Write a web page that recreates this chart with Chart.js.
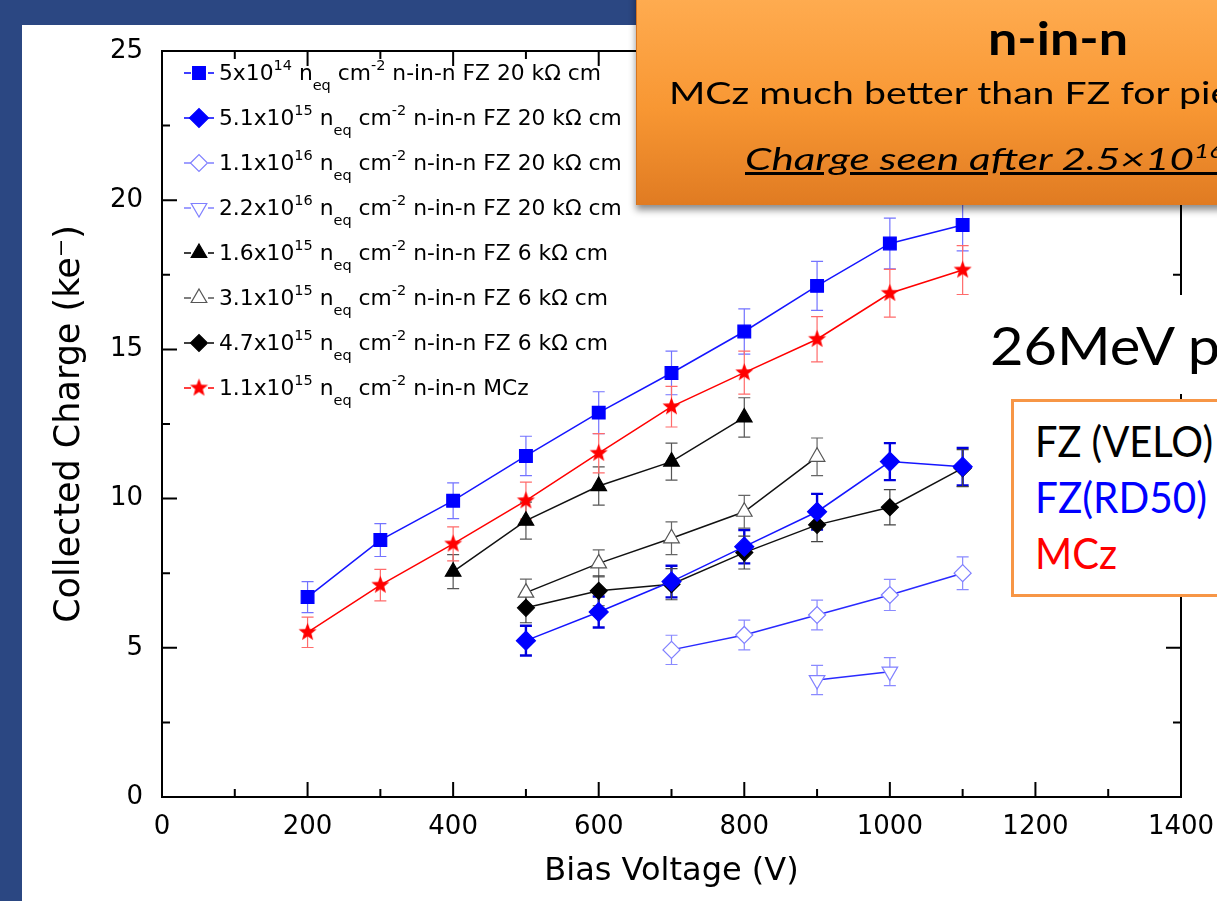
<!DOCTYPE html>
<html><head><meta charset="utf-8">
<script src="https://cdn.jsdelivr.net/npm/chart.js@4.4.0/dist/chart.umd.min.js"></script>
<style>
html,body{margin:0;padding:0;width:1217px;height:901px;overflow:hidden;background:#2B4782;}
#panel{position:absolute;left:22px;top:25px;width:1300px;height:1000px;background:#fff;}
#c{position:absolute;left:0;top:0;width:1217px;height:901px;}
.ov{position:absolute;white-space:nowrap;font-family:Lato,"Open Sans",sans-serif;line-height:1;transform-origin:0 0;color:#000;}
#obox{position:absolute;left:636px;top:-10px;width:700px;height:215px;background:linear-gradient(#FFAD52,#F89733 55%,#E07B22);box-shadow:0 5px 7px rgba(0,0,0,0.45);border-left:1px solid #D57520;}
#mbox{position:absolute;left:975px;top:295px;width:300px;height:99px;background:#fff;}
#fbox{position:absolute;left:1011px;top:399px;width:300px;height:192px;border:3px solid #F79646;background:#fff;}
sup{font-size:0.62em;vertical-align:0.6em;line-height:0;}
</style></head><body>
<div id="panel"></div>
<canvas id="c" width="1217" height="901"></canvas>
<div id="obox"></div>
<div id="mbox"></div>
<div id="fbox"></div>
<div class="ov" id="t_ninn" style="font-weight:bold;font-size:45px;"><span class="m">n-in-n</span></div>
<div class="ov" id="t_mcz" style="font-size:31px;"><span class="m">MCz much better than FZ for</span> pie</div>
<div class="ov" id="t_charge" style="font-size:31px;font-style:italic;text-decoration:underline;"><span class="m">Charge seen after 2.5×10</span><sup>16</sup>&nbsp;&nbsp;&nbsp;&nbsp;&nbsp;&nbsp;</div>
<div class="ov" id="t_26" style="font-size:52px;"><span class="m">26MeV</span> p</div>
<div class="ov" id="t_velo" style="font-size:42px;"><span class="m">FZ (VELO)</span></div>
<div class="ov" id="t_rd50" style="font-size:42px;color:#0000FF;"><span class="m">FZ(RD50)</span></div>
<div class="ov" id="t_mczb" style="font-size:42px;color:#FF0000;"><span class="m">MCz</span></div>
<script>
// ---------------- data ----------------
const V_200_1100 = [200,300,400,500,600,700,800,900,1000,1100];
const V_500_1100 = [500,600,700,800,900,1000,1100];
const V_700_1100 = [700,800,900,1000,1100];
const V_900_1000 = [900,1000];
const V_400_800  = [400,500,600,700,800];
const V_500_900  = [500,600,700,800,900];

const q_FZ20_5e14   = [6.70,8.61,9.93,11.43,12.88,14.21,15.60,17.13,18.55,19.17];
const e_FZ20_5e14   = [0.52,0.55,0.60,0.66,0.70,0.73,0.76,0.82,0.85,0.87];
const q_FZ20_5p1e15 = [5.24,6.20,7.22,8.39,9.56,11.24,11.07];
const e_FZ20_5p1e15 = [0.50,0.52,0.53,0.56,0.60,0.62,0.63];
const q_FZ20_1p1e16 = [4.93,5.43,6.10,6.77,7.50];
const e_FZ20_1p1e16 = [0.49,0.50,0.50,0.52,0.55];
const q_FZ20_2p2e16 = [3.92,4.20];
const e_FZ20_2p2e16 = [0.49,0.47];
const q_FZ6_1p6e15  = [7.55,9.26,10.42,11.24,12.72];
const e_FZ6_1p6e15  = [0.57,0.62,0.64,0.62,0.66];
const q_FZ6_3p1e15  = [6.85,7.83,8.67,9.56,11.40];
const e_FZ6_3p1e15  = [0.45,0.45,0.55,0.55,0.63];
const q_FZ6_4p7e15  = [6.34,6.91,7.13,8.19,9.12,9.71,11.02];
const e_FZ6_4p7e15  = [0.50,0.50,0.52,0.55,0.56,0.59,0.62];
const q_MCz_1p1e15  = [5.52,7.10,8.48,9.93,11.52,13.08,14.22,15.34,16.88,17.66];
const e_MCz_1p1e15  = [0.51,0.53,0.57,0.62,0.66,0.68,0.72,0.76,0.80,0.82];

const legendMantissa = ['5','5.1','1.1','2.2','1.6','3.1','4.7','1.1'];
const legendExponent = ['14','15','16','16','15','15','15','15'];
const legendSuffix   = ['n-in-n FZ 20 kΩ cm','n-in-n FZ 20 kΩ cm','n-in-n FZ 20 kΩ cm','n-in-n FZ 20 kΩ cm',
                        'n-in-n FZ 6 kΩ cm','n-in-n FZ 6 kΩ cm','n-in-n FZ 6 kΩ cm','n-in-n MCz'];

const xTicksStep = 200, xMin = 0, xMax = 1400;
const yTicksStep = 5, yMin = 0, yMax = 25;

// ---------------- helpers ----------------
function pts(xs, ys){ return xs.map((x,i)=>({x:x, y:ys[i]})); }
function makeStar(r, color){
  const s = Math.ceil(r*2+2);
  const c = document.createElement('canvas'); c.width = s; c.height = s;
  const g = c.getContext('2d'); g.fillStyle = color; g.beginPath();
  for (let k=0;k<10;k++){
    const a = -Math.PI/2 + k*Math.PI/5; const rr = (k%2) ? r*0.42 : r;
    g.lineTo(s/2+rr*Math.cos(a), s/2+rr*Math.sin(a));
  }
  g.closePath(); g.fill(); return c;
}
const starImg = makeStar(9.5, '#FF0000');
const FONT = 'DejaVu Sans';

function ds(label, xs, ys, errs, o){
  return Object.assign({
    label: label, data: pts(xs, ys), errors: errs,
    showLine: true, borderWidth: 1.5, tension: 0,
    pointBorderWidth: 1.2, pointHoverRadius: o.pointRadius,
  }, o);
}

const datasets = [
  ds('5e14 FZ20', V_200_1100, q_FZ20_5e14, e_FZ20_5e14, {borderColor:'#1515FF', pointStyle:'rect', pointRadius:9,
     pointBackgroundColor:'#0000FF', pointBorderColor:'#0000FF', errColor:'#7373FF', errWidth:1.2, dash:'#0000FF'}),
  ds('5.1e15 FZ20', V_500_1100, q_FZ20_5p1e15, e_FZ20_5p1e15, {borderColor:'#1515FF', pointStyle:'rectRot', pointRadius:9.5,
     pointBackgroundColor:'#0000FF', pointBorderColor:'#0000FF', errColor:'#0000DD', errWidth:2.4, dash:'#0000FF'}),
  ds('1.1e16 FZ20', V_700_1100, q_FZ20_1p1e16, e_FZ20_1p1e16, {borderColor:'#2A2AFF', pointStyle:'rectRot', pointRadius:8.5,
     pointBackgroundColor:'#FFFFFF', pointBorderColor:'#8080FF', errColor:'#8A8AFF', errWidth:1.2, dash:'#8080FF'}),
  ds('2.2e16 FZ20', V_900_1000, q_FZ20_2p2e16, e_FZ20_2p2e16, {borderColor:'#2A2AFF', pointStyle:'triangle', pointRotation:180, pointRadius:9,
     pointBackgroundColor:'#FFFFFF', pointBorderColor:'#8080FF', errColor:'#8A8AFF', errWidth:1.2, dash:'#8080FF'}),
  ds('1.6e15 FZ6', V_400_800, q_FZ6_1p6e15, e_FZ6_1p6e15, {borderColor:'#111111', pointStyle:'triangle', pointRadius:9,
     pointBackgroundColor:'#000000', pointBorderColor:'#000000', errColor:'#555555', errWidth:1.2, dash:'#000000'}),
  ds('3.1e15 FZ6', V_500_900, q_FZ6_3p1e15, e_FZ6_3p1e15, {borderColor:'#111111', pointStyle:'triangle', pointRadius:9,
     pointBackgroundColor:'#FFFFFF', pointBorderColor:'#555555', errColor:'#666666', errWidth:1.2, dash:'#555555'}),
  ds('4.7e15 FZ6', V_500_1100, q_FZ6_4p7e15, e_FZ6_4p7e15, {borderColor:'#111111', pointStyle:'rectRot', pointRadius:8.5,
     pointBackgroundColor:'#000000', pointBorderColor:'#000000', errColor:'#444444', errWidth:1.2, dash:'#000000'}),
  ds('1.1e15 MCz', V_200_1100, q_MCz_1p1e15, e_MCz_1p1e15, {borderColor:'#FF0000', pointStyle:starImg, pointRadius:9,
     pointBackgroundColor:'#FF0000', pointBorderColor:'#FF0000', errColor:'#FF6B6B', errWidth:1.2, dash:'#FF0000'}),
];

// ---------------- plugins ----------------
const errorBars = {
  id:'errorBars',
  beforeDatasetsDraw(chart){
    const ctx = chart.ctx, xs = chart.scales.x, ys = chart.scales.y;
    ctx.save();
    chart.data.datasets.forEach(d=>{
      if(!d.errors) return;
      ctx.strokeStyle = d.errColor; ctx.lineWidth = d.errWidth;
      d.data.forEach((p,i)=>{
        const e = d.errors[i];
        const px = xs.getPixelForValue(p.x);
        const y1 = ys.getPixelForValue(p.y + e), y2 = ys.getPixelForValue(p.y - e);
        ctx.beginPath();
        ctx.moveTo(px, y1); ctx.lineTo(px, y2);
        ctx.moveTo(px-6, y1); ctx.lineTo(px+6, y1);
        ctx.moveTo(px-6, y2); ctx.lineTo(px+6, y2);
        ctx.stroke();
      });
    });
    ctx.restore();
  }
};

const frameTicks = {
  id:'frameTicks',
  afterDatasetsDraw(chart){
    const ctx = chart.ctx, xs = chart.scales.x, ys = chart.scales.y, a = chart.chartArea;
    ctx.save();
    ctx.strokeStyle = '#000'; ctx.lineWidth = 2;
    ctx.strokeRect(a.left, a.top, a.right - a.left, a.bottom - a.top);
    ctx.beginPath();
    for (let v = xMin + xTicksStep/2; v < xMax; v += xTicksStep/2){
      const len = (Math.abs(v % xTicksStep) < 1e-6) ? 15 : 8;
      const px = xs.getPixelForValue(v);
      ctx.moveTo(px, a.bottom); ctx.lineTo(px, a.bottom - len);
      ctx.moveTo(px, a.top); ctx.lineTo(px, a.top + len);
    }
    for (let v = yMin + yTicksStep/2; v < yMax - 1e-6; v += yTicksStep/2){
      const len = (Math.abs(v % yTicksStep) < 1e-6) ? 15 : 8;
      const py = ys.getPixelForValue(v);
      ctx.moveTo(a.left, py); ctx.lineTo(a.left + len, py);
      ctx.moveTo(a.right, py); ctx.lineTo(a.right - len, py);
    }
    ctx.stroke();
    ctx.restore();
  }
};

function drawMarker(ctx, d, x, y){
  ctx.save();
  ctx.fillStyle = d.pointBackgroundColor; ctx.strokeStyle = d.pointBorderColor; ctx.lineWidth = d.pointBorderWidth;
  const opts = {pointStyle: d.pointStyle, rotation: d.pointRotation || 0, radius: d.pointRadius, borderWidth: d.pointBorderWidth};
  if (Chart.helpers && Chart.helpers.drawPoint) { Chart.helpers.drawPoint(ctx, opts, x, y); }
  ctx.restore();
}

const richLegend = {
  id:'richLegend',
  afterDraw(chart){
    const ctx = chart.ctx;
    ctx.save();
    chart.data.datasets.forEach((d,i)=>{
      const cy = 73 + 45*i, base = 80 + 45*i;
      ctx.strokeStyle = d.dash; ctx.lineWidth = 1.5;
      ctx.beginPath(); ctx.moveTo(184,cy); ctx.lineTo(191,cy); ctx.moveTo(208,cy); ctx.lineTo(214,cy); ctx.stroke();
      drawMarker(ctx, d, 199, cy);
      const big = '21.8px "' + FONT + '"', small = '14.5px "' + FONT + '"';
      const parts = [[legendMantissa[i]+'x10', big, 0], [legendExponent[i], small, -10], [' n', big, 0], ['eq', small, 9.5],
                     [' cm', big, 0], ['-2', small, -10], [' ' + legendSuffix[i], big, 0]];
      ctx.fillStyle = '#000'; ctx.textBaseline = 'alphabetic'; ctx.textAlign = 'left';
      let x = 219;
      parts.forEach(p=>{ ctx.font = p[1]; ctx.fillText(p[0], x, base + p[2]); x += ctx.measureText(p[0]).width; });
    });
    ctx.restore();
  }
};

// ---------------- chart ----------------
new Chart(document.getElementById('c'), {
  type: 'line',
  data: { datasets: datasets },
  options: {
    responsive: false, animation: false, events: [],
    layout: { padding: { left: 0, top: 51, right: 36, bottom: 0 } },
    plugins: { legend: { display: false }, tooltip: { enabled: false } },
    scales: {
      x: {
        type: 'linear', min: xMin, max: xMax,
        grid: { display: false, drawTicks: false }, border: { display: false },
        ticks: { stepSize: xTicksStep, color: '#000', padding: 15, maxRotation: 0, autoSkip: false,
                 font: { family: FONT, size: 26 }, callback: v => String(v) },
        title: { display: true, text: 'Bias Voltage (V)', color: '#000', font: { family: FONT, size: 32 },
                 padding: { top: 0, bottom: 10 } },
        afterFit(s){ s.height = 104; s.paddingRight = 30; s.paddingLeft = 10; }
      },
      y: {
        type: 'linear', min: yMin, max: yMax,
        grid: { display: false, drawTicks: false }, border: { display: false },
        ticks: { stepSize: yTicksStep, color: '#000', padding: 19, font: { family: FONT, size: 26 },
                 callback: v => String(v) },
        title: { display: true, text: 'Collected Charge (ke⁻)', color: '#000', font: { family: FONT, size: 35 },
                 padding: { top: 49, bottom: 0 } },
        afterFit(s){ s.width = 162; }
      }
    }
  },
  plugins: [errorBars, frameTicks, richLegend]
});

// ---------------- slide text placement ----------------
function place(id, x, baseline, targetW){
  const el = document.getElementById(id);
  el.style.left = x + 'px'; el.style.top = '0px'; el.style.transform = 'none';
  const probe = document.createElement('span');
  probe.style.cssText = 'display:inline-block;width:0;height:0;vertical-align:baseline;';
  el.appendChild(probe);
  const off = probe.getBoundingClientRect().top - el.getBoundingClientRect().top;
  el.style.top = (baseline - off) + 'px';
  const m = el.querySelector('.m');
  if (targetW && m){ const w = m.getBoundingClientRect().width; el.style.transform = 'scaleX(' + (targetW / w) + ')'; }
}
function layoutText(){
  place('t_ninn', 988, 55, 140);
  place('t_mcz', 669, 104, 500);
  place('t_charge', 745, 170, 449);
  place('t_26', 990, 365, 183);
  place('t_velo', 1035, 457, 178);
  place('t_rd50', 1035, 513, 172);
  place('t_mczb', 1035, 569, 82);
}
layoutText();
</script>
</body></html>
